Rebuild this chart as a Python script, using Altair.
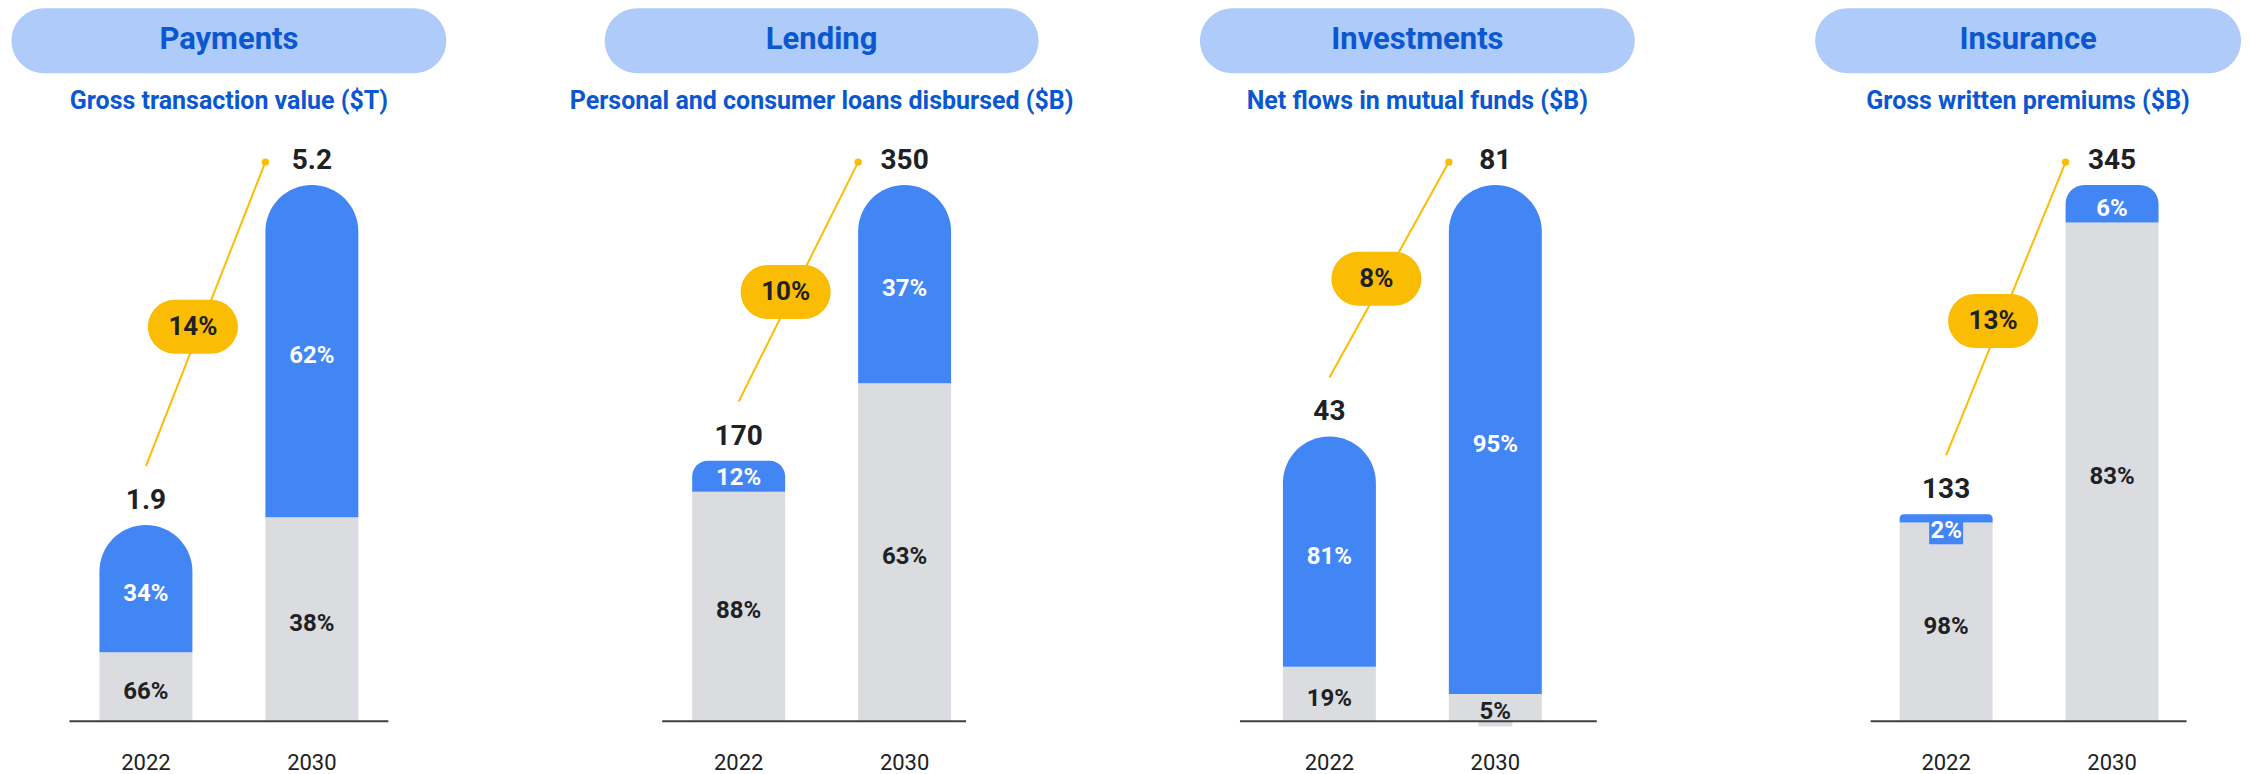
import altair as alt
import pandas as pd

# ---------------- data ----------------
categories = ["Payments", "Lending", "Investments", "Insurance"]
subtitles = [
    "Gross transaction value ($T)",
    "Personal and consumer loans disbursed ($B)",
    "Net flows in mutual funds ($B)",
    "Gross written premiums ($B)",
]
years = ["2022", "2030"]

payments_totals = [1.9, 5.2]
lending_totals = [170, 350]
investments_totals = [43, 81]
insurance_totals = [133, 345]
totals = [payments_totals, lending_totals, investments_totals, insurance_totals]

# blue (top) share of each bar as drawn in the picture, %
payments_blue_drawn = [65, 62]
lending_blue_drawn = [12, 37]
investments_blue_drawn = [81, 95]
insurance_blue_drawn = [4, 7]
blue_drawn = [payments_blue_drawn, lending_blue_drawn, investments_blue_drawn, insurance_blue_drawn]

# printed segment labels
blue_labels = [["34%", "62%"], ["12%", "37%"], ["81%", "95%"], ["2%", "6%"]]
gray_labels = [["66%", "38%"], ["88%", "63%"], ["19%", "5%"], ["98%", "83%"]]
cagr_labels = ["14%", "10%", "8%", "13%"]

# labels printed on a small background box (category, year, segment)
boxed_labels = [("Lending", "2022", "blue"), ("Insurance", "2022", "blue"), ("Investments", "2030", "gray")]

# ---------------- style ----------------
FONT = "Roboto"
BLUE = "#4285F4"
GRAY = "#DADCE0"
PILL = "#AECBFA"
TITLE = "#0B57D0"
YELLOW = "#FBBC04"
INK = "#202124"
H = 713          # plot height (top of pill to baseline)
MAX_BAR = 536    # pixel height of the tallest bar
BAR_W = 93
STEP = 166
SPACING = 274
widths = [319, 304, 357, 316]
first_centers = [77, 77, 90, 76]
pill_widths = [435, 434, 435, 426]
pill_centers = [160, 160, 178, 158]


def panel(i):
    W = widths[i]
    tot = totals[i]
    D = max(tot) * H / MAX_BAR
    px = D / H  # data units per pixel
    p_inner = 1 - BAR_W / STEP
    outer_total = W - (2 - p_inner) * STEP
    p_outer = outer_total / (2 * STEP)
    align = (first_centers[i] - BAR_W / 2) / outer_total

    xscale = alt.Scale(domain=years, paddingInner=p_inner, paddingOuter=p_outer, align=align)
    xaxis = alt.Axis(title=None, ticks=False, tickSize=0, labelAngle=0, labelFont=FONT,
                     labelFontSize=22, labelColor=INK, labelPadding=32, domainColor="#3C4043",
                     domainWidth=2, grid=False, zindex=1)
    yscale = alt.Scale(domain=[0, D], nice=False, zero=True)

    def X(f="year"):
        return alt.X(f + ":N", scale=xscale, axis=xaxis, sort=years)

    def Y(f):
        return alt.Y(f + ":Q", scale=yscale, axis=None)

    df = pd.DataFrame({
        "year": years,
        "total": tot,
        "blue_share": blue_drawn[i],
        "blue_label": blue_labels[i],
        "gray_label": gray_labels[i],
        "value_label": [f"{v:g}" for v in tot],
    })
    df["split"] = df["total"] * (1 - df["blue_share"] / 100)
    df["blue_box"] = [(categories[i], y, "blue") in boxed_labels for y in years]
    df["gray_box"] = [(categories[i], y, "gray") in boxed_labels for y in years]
    df["blue_y"] = [t - 17 * px if b else (s + t) / 2 - 5 * px
                    for t, s, b in zip(df["total"], df["split"], df["blue_box"])]
    df["gray_y"] = df["split"] / 2 - 5 * px
    df["blue_w"] = df["blue_label"].str.len() * 11 + 12
    df["gray_w"] = df["gray_label"].str.len() * 11 + 12

    head = pd.DataFrame({"cat": [categories[i]], "sub": [subtitles[i]]})
    cagr = pd.DataFrame({
        "x0": [years[0]], "x1": [years[1]],
        "ys": [tot[0] + 59 * px], "ye": [tot[1] + 23 * px],
        "ym": [tot[0] + 0.46 * (tot[1] - tot[0]) + 42 * px],
        "cagr": [cagr_labels[i]],
    })

    pw = pill_widths[i]
    pc = pill_centers[i]
    pill = alt.Chart(head).mark_rect(color=PILL, cornerRadius=32.5).encode(
        x=alt.value(pc - pw / 2), x2=alt.value(pc + pw / 2),
        y=alt.value(0), y2=alt.value(65))
    title = alt.Chart(head).mark_text(font=FONT, fontSize=31, fontWeight="bold", color=TITLE,
                                      baseline="middle").encode(
        x=alt.value(pc), y=alt.value(32), text="cat:N")
    sub = alt.Chart(head).mark_text(font=FONT, fontSize=25, fontWeight="bold", color=TITLE,
                                    baseline="middle").encode(
        x=alt.value(pc), y=alt.value(93), text="sub:N")

    gray = alt.Chart(df).mark_bar(color=GRAY).encode(x=X(), y=Y("split"))
    blue = alt.Chart(df).mark_bar(color=BLUE, cornerRadiusTopLeft=46.5,
                                  cornerRadiusTopRight=46.5).encode(
        x=X(), y=Y("split"), y2="total:Q")

    blue_box = alt.Chart(df).transform_filter("datum.blue_box").mark_tick(
        color=BLUE, thickness=26, opacity=1).encode(
        x=X(), y=Y("blue_y"), size=alt.Size("blue_w:Q", scale=None, legend=None))
    gray_box = alt.Chart(df).transform_filter("datum.gray_box").mark_tick(
        color=GRAY, thickness=28, opacity=1).encode(
        x=X(), y=Y("gray_y"), size=alt.Size("gray_w:Q", scale=None, legend=None))

    blue_txt = alt.Chart(df).mark_text(font=FONT, fontSize=24, fontWeight="bold", color="white",
                                       baseline="middle").encode(
        x=X(), y=Y("blue_y"), text="blue_label:N")
    gray_txt = alt.Chart(df).mark_text(font=FONT, fontSize=24, fontWeight="bold", color=INK,
                                       baseline="middle").encode(
        x=X(), y=Y("gray_y"), text="gray_label:N")
    val_txt = alt.Chart(df).mark_text(font=FONT, fontSize=28, fontWeight="bold", color=INK,
                                      baseline="middle", dy=-24).encode(
        x=X(), y=Y("total"), text="value_label:N")

    line = alt.Chart(cagr).mark_rule(color=YELLOW, strokeWidth=2, x2Offset=-46.5).encode(
        x=X("x0"), x2="x1:N", y=Y("ys"), y2="ye:Q")
    dot = alt.Chart(cagr).mark_circle(color=YELLOW, size=55, opacity=1, xOffset=-46.5).encode(
        x=X("x1"), y=Y("ye"))
    cpill = alt.Chart(cagr).mark_tick(color=YELLOW, thickness=54, size=90, cornerRadius=27,
                                      opacity=1, xOffset=47).encode(x=X("x0"), y=Y("ym"))
    ctxt = alt.Chart(cagr).mark_text(font=FONT, fontSize=26, fontWeight="bold", color=INK,
                                     baseline="middle", xOffset=47).encode(
        x=X("x0"), y=Y("ym"), text="cagr:N")

    return alt.layer(pill, title, sub, gray, blue, blue_box, gray_box, blue_txt, gray_txt,
                     val_txt, line, cpill, ctxt, dot).properties(width=W, height=H)


chart = alt.hconcat(*[panel(i) for i in range(4)], spacing=SPACING, bounds="flush").resolve_scale(
    x="independent", y="independent").properties(
    padding={"left": 3, "top": 0, "right": 0, "bottom": 0}
).configure_view(stroke=None).configure_axis(grid=False)

chart.save("out.html", embed_options={"renderer": "svg", "actions": False})
